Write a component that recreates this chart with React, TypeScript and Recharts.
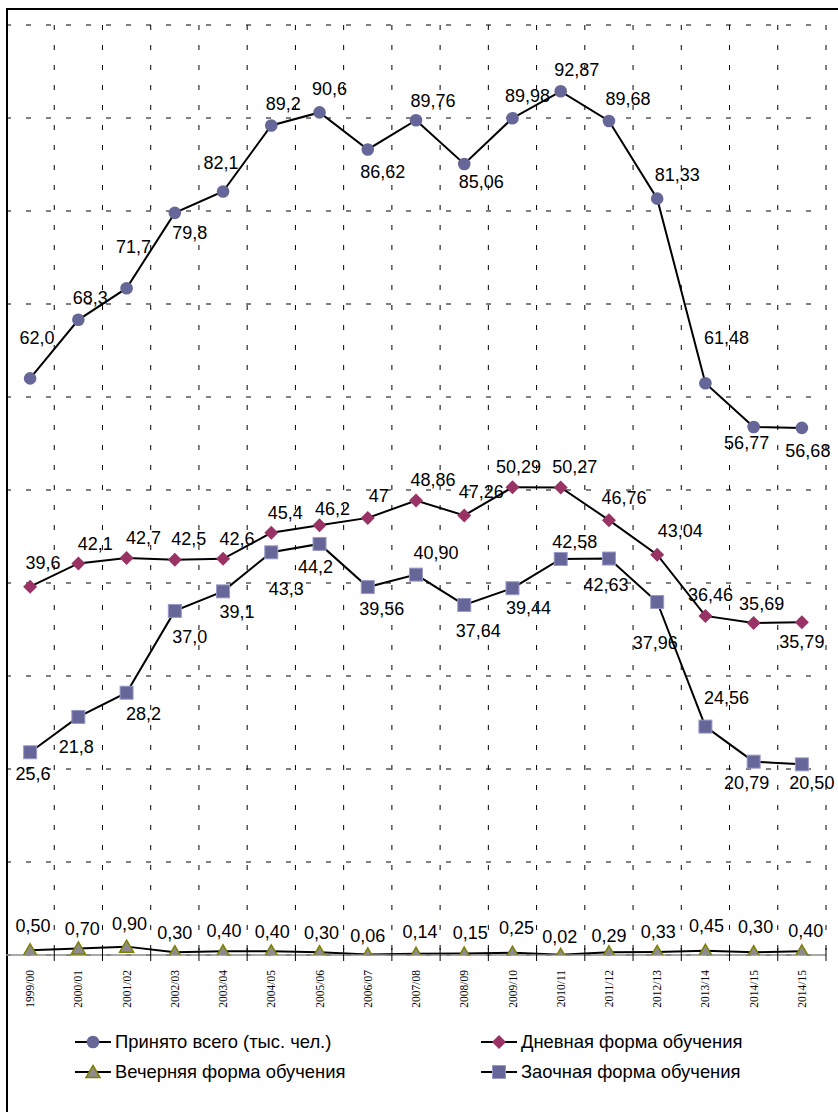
import React from 'react';
import { LineChart, Line, XAxis, YAxis, CartesianGrid, LabelList } from 'recharts';

const years = ['1999/00', '2000/01', '2001/02', '2002/03', '2003/04', '2004/05', '2005/06', '2006/07', '2007/08', '2008/09', '2009/10', '2010/11', '2011/12', '2012/13', '2013/14', '2014/15', '2014/15'];

const totalAdmitted = [62.0, 68.3, 71.7, 79.8, 82.1, 89.2, 90.6, 86.62, 89.76, 85.06, 89.98, 92.87, 89.68, 81.33, 61.48, 56.77, 56.68];
const totalLabels = ['62,0', '68,3', '71,7', '79,8', '82,1', '89,2', '90,6', '86,62', '89,76', '85,06', '89,98', '92,87', '89,68', '81,33', '61,48', '56,77', '56,68'];

const fullTime = [39.6, 42.1, 42.7, 42.5, 42.6, 45.4, 46.2, 47, 48.86, 47.26, 50.29, 50.27, 46.76, 43.04, 36.46, 35.69, 35.79];
const fullTimeLabels = ['39,6', '42,1', '42,7', '42,5', '42,6', '45,4', '46,2', '47', '48,86', '47,26', '50,29', '50,27', '46,76', '43,04', '36,46', '35,69', '35,79'];

const evening = [0.5, 0.7, 0.9, 0.3, 0.4, 0.4, 0.3, 0.06, 0.14, 0.15, 0.25, 0.02, 0.29, 0.33, 0.45, 0.3, 0.4];
const eveningLabels = ['0,50', '0,70', '0,90', '0,30', '0,40', '0,40', '0,30', '0,06', '0,14', '0,15', '0,25', '0,02', '0,29', '0,33', '0,45', '0,30', '0,40'];

const extramural = [21.8, 25.6, 28.2, 37.0, 39.1, 43.3, 44.2, 39.56, 40.9, 37.64, 39.44, 42.58, 42.63, 37.96, 24.56, 20.79, 20.5];
const extramuralLabels = ['25,6', '21,8', '28,2', '37,0', '39,1', '43,3', '44,2', '39,56', '40,90', '37,64', '39,44', '42,58', '42,63', '37,96', '24,56', '20,79', '20,50'];

const yTicks = [10, 20, 30, 40, 50, 60, 70, 80, 90, 100];

// label placement offsets (label centre relative to the point), kept apart from the data
const totalOffsets = [[7, -40], [12, -22], [7, -41], [15, 20], [-2, -28], [12, -21], [10, -23], [15, 23], [17, -19], [17, 18], [15, -22], [16, -21], [19, -22], [20, -24], [21, -45], [-7, 16], [6, 23]];
const fullTimeOffsets = [[13, -24], [17, -19], [17, -20], [14, -21], [14, -20], [14, -20], [13, -16], [11, -22], [17, -21], [17, -23], [6, -20], [14, -20], [15, -22], [23, -24], [5, -21], [8, -19], [0, 20]];
const extramuralOffsets = [[3, 22], [-2, 30], [17, 21], [15, 26], [14, 21], [15, 37], [-4, 23], [14, 22], [20, -22], [14, 26], [16, 20], [14, -17], [-3, 26], [-2, 41], [21, -29], [-7, 21], [10, 19]];
const eveningOffsets = [[3, -24], [4, -19], [3, -23], [0, -19], [1, -20], [1, -19], [2, -19], [0, -18], [4, -22], [6, -21], [4, -25], [-1, -18], [0, -16], [1, -20], [1, -25], [2, -25], [4, -20]];

const data = years.map((year, i) => ({
  idx: i,
  year,
  total: totalAdmitted[i],
  totalLabel: totalLabels[i],
  fullTime: fullTime[i],
  fullTimeLabel: fullTimeLabels[i],
  evening: evening[i],
  eveningLabel: eveningLabels[i],
  extramural: extramural[i],
  extramuralLabel: extramuralLabels[i],
}));

const centerTicks = years.map((_, i) => i);
const boundaryTicks = years.map((_, i) => i + 0.5);
const axisTicks = [...centerTicks, ...boundaryTicks].sort((a, b) => a - b);

const SANS = "'Liberation Sans', Arial, sans-serif";
const SERIF = "'Liberation Serif', 'Times New Roman', serif";

const CircleMark = ({ cx, cy }: any) => <circle cx={cx} cy={cy} r={6.3} fill="#666699" />;
const DiamondMark = ({ cx, cy }: any) => (
  <path d={`M${cx},${cy - 7}L${cx + 7},${cy}L${cx},${cy + 7}L${cx - 7},${cy}Z`} fill="#993366" />
);
const SquareMark = ({ cx, cy }: any) => (
  <rect x={cx - 6.5} y={cy - 6.5} width={13} height={13} fill="#666699" stroke="#9a9ac8" strokeWidth={1} />
);
const TriangleMark = ({ cx, cy }: any) => (
  <path d={`M${cx},${cy - 6.5}L${cx + 7},${cy + 5.5}L${cx - 7},${cy + 5.5}Z`} fill="#8c8c8c" stroke="#808000" strokeWidth={1.5} />
);

const makeDot = (Shape: any) => (p: any) => <Shape key={`d-${p.index}`} cx={p.cx} cy={p.cy} />;

const makeLabel = (offsets: number[][]) => (p: any) => {
  const i = p.index;
  const px = p.x ?? p.viewBox?.x;
  const py = p.y ?? p.viewBox?.y;
  if (px == null || py == null || i == null) return null;
  const [dx, dy] = offsets[i] || [0, -20];
  return (
    <text
      key={`l-${i}`}
      x={px + dx}
      y={py + dy}
      textAnchor="middle"
      dominantBaseline="central"
      fontFamily={SANS}
      fontSize={18}
      fill="#000"
    >
      {p.value}
    </text>
  );
};

const AxisTick = (props: any) => {
  const { x, y, payload } = props;
  const v = payload.value;
  if (Number.isInteger(v)) {
    return (
      <text
        transform={`translate(${x},${y + 15}) rotate(-90)`}
        textAnchor="end"
        dy="0.35em"
        fontFamily={SERIF}
        fontSize={11.5}
        fill="#000"
      >
        {years[v]}
      </text>
    );
  }
  return <line x1={x} x2={x} y1={y - 7} y2={y + 6} stroke="#000" strokeWidth={1} />;
};

const legendItems = [
  { name: 'Принято всего (тыс. чел.)', Shape: CircleMark, left: 67, top: 1020 },
  { name: 'Дневная форма обучения', Shape: DiamondMark, left: 473, top: 1020 },
  { name: 'Вечерняя форма обучения', Shape: TriangleMark, left: 67, top: 1050 },
  { name: 'Заочная форма обучения', Shape: SquareMark, left: 473, top: 1050 },
];

export default function App() {
  return (
    <div
      style={{
        position: 'fixed',
        left: 6,
        top: 8,
        width: 832,
        height: 1104,
        borderTop: '2px solid #000',
        borderLeft: '2px solid #000',
        boxSizing: 'border-box',
        background: '#fff',
      }}
    >
      <div style={{ position: 'absolute', left: -2, top: -2 }}>
        <LineChart width={832} height={1010} data={data} margin={{ top: 17, right: 12, bottom: 3, left: 0 }}>
          <XAxis
            xAxisId="grid"
            type="number"
            dataKey="idx"
            domain={[-0.5, 16.5]}
            ticks={boundaryTicks}
            allowDataOverflow
            hide
          />
          <YAxis type="number" domain={[0, 100]} ticks={yTicks} allowDataOverflow hide />
          <CartesianGrid xAxisId="grid" stroke="#000" strokeWidth={1} strokeDasharray="5 15" />
          <XAxis
            type="number"
            dataKey="idx"
            domain={[-0.5, 16.5]}
            ticks={axisTicks}
            interval={0}
            allowDataOverflow
            height={60}
            tickSize={0}
            tickMargin={0}
            tickLine={false}
            axisLine={{ stroke: '#8c8c8c', strokeWidth: 1.5 }}
            tick={<AxisTick />}
          />
          <Line
            dataKey="total"
            stroke="#000"
            strokeWidth={2}
            dot={makeDot(CircleMark)}
            activeDot={false}
            isAnimationActive={false}
          >
            <LabelList dataKey="totalLabel" content={makeLabel(totalOffsets)} />
          </Line>
          <Line
            dataKey="fullTime"
            stroke="#000"
            strokeWidth={2}
            dot={makeDot(DiamondMark)}
            activeDot={false}
            isAnimationActive={false}
          >
            <LabelList dataKey="fullTimeLabel" content={makeLabel(fullTimeOffsets)} />
          </Line>
          <Line
            dataKey="evening"
            stroke="#000"
            strokeWidth={2}
            dot={makeDot(TriangleMark)}
            activeDot={false}
            isAnimationActive={false}
          >
            <LabelList dataKey="eveningLabel" content={makeLabel(eveningOffsets)} />
          </Line>
          <Line
            dataKey="extramural"
            stroke="#000"
            strokeWidth={2}
            dot={makeDot(SquareMark)}
            activeDot={false}
            isAnimationActive={false}
          >
            <LabelList dataKey="extramuralLabel" content={makeLabel(extramuralOffsets)} />
          </Line>
        </LineChart>
      </div>
      {legendItems.map((item) => (
        <div
          key={item.name}
          style={{
            position: 'absolute',
            left: item.left,
            top: item.top,
            height: 24,
            display: 'flex',
            alignItems: 'center',
            whiteSpace: 'nowrap',
          }}
        >
          <svg width={36} height={20} style={{ display: 'block' }}>
            <line x1={0} x2={36} y1={10} y2={10} stroke="#000" strokeWidth={2} />
            <item.Shape cx={18} cy={10} />
          </svg>
          <span style={{ marginLeft: 4, fontFamily: SANS, fontSize: 18.4, color: '#000' }}>{item.name}</span>
        </div>
      ))}
    </div>
  );
}
